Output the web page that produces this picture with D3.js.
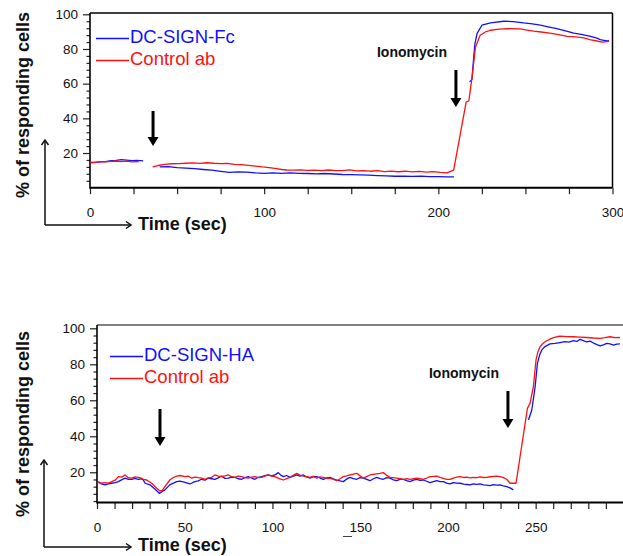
<!DOCTYPE html>
<html><head><meta charset="utf-8">
<script src="https://cdn.jsdelivr.net/npm/d3@7"></script>
<style>
body{margin:0;background:#fff}
svg{display:block}
text{font-family:"Liberation Sans",Arial,Helvetica,sans-serif}
</style>
</head><body>
<svg id="c" width="623" height="556"></svg>
<script>
// ---------- DATA ----------
const xTicksTop = [0, 100, 200, 300];
const xTicksBottom = [0, 50, 100, 150, 200, 250];
const yTicks = [20, 40, 60, 80, 100];
const legendTop = ["DC-SIGN-Fc", "Control ab"];
const legendBottom = ["DC-SIGN-HA", "Control ab"];
const yLabel = "% of responding cells";
const xLabel = "Time (sec)";
const annotation = "Ionomycin";
const stimTimeTop = [36.2, 210.1];     // arrows: stimulus, ionomycin
const stimTimeBottom = [35.9, 234.2];

// top panel, DC-SIGN-Fc  [time, %]  (null = gap)
const fcData = [[0,14.3],[3,14.6],[6,14.9],[9,15.0],[12,15.6],[15,15.8],[18,16.2],[21,15.9],[24,15.6],[27,15.8],[30.5,15.5],
[35,null],
[40,12.0],[45,12.2],[50,11.6],[55,11.3],[60,11.0],[65,10.5],[70,10.1],[75,9.4],[80,8.8],[85,9.1],[90,9.0],[95,8.5],[100,8.3],[105,8.6],[110,8.3],[115,8.5],[120,8.3],[125,8.2],[130,8.0],[135,8.2],[140,7.9],[145,7.6],[150,7.5],[155,7.4],[160,7.2],[165,7.0],[170,6.8],[175,6.6],[180,6.7],[185,6.5],[190,6.7],[195,6.4],[200,6.4],[205,6.3],[209,6.2],
[214,null],
[218,61],[219.3,62.5],[220.3,75],[221,83],[222.2,88.9],[225,93.7],[230,95],[237.5,96],[243,95.8],[249,95],[254,94.5],[258.6,93.7],[263,92.8],[268,91.7],[273,90.5],[277.8,89.2],[282,88.4],[287.4,87.3],[291,86.3],[293,85.4],[295,85.0],[297,84.6],[298,85.0]];

// top panel, Control ab
const fcCtrlData = [[0,14.8],[3,14.6],[6,15.0],[9,14.9],[12,15.2],[15,15.4],[18,15.0],[21,15.3],[24,14.9],[28,15.1],
[32,null],
[36,12.0],[39,12.8],[43,13.5],[47,13.8],[51,13.9],[55,14.1],[59,14.3],[63,14.0],[67,14.4],[71,14.1],[75,13.9],[79,14.0],[83,13.4],[87,13.3],[91,12.9],[95,12.5],[99,12.0],[103,11.6],[107,11.0],[110,10.5],[113,10.2],
[117,10.1],[121,10.3],[125,10.0],[129,10.1],[133,9.9],[137,10.2],[141,9.8],[145,9.9],[149,10.3],[153,9.7],[157,9.9],[161,9.5],[165,9.8],[169,9.3],[173,9.6],[177,9.2],[181,9.5],[185,9.1],[189,9.4],[193,9.0],[197,9.3],[201,8.8],[205,8.6],[207,9.4],[208.8,10.1],
[216,49.5],[217.5,50],[219.4,63.9],[221.3,81],[224,87.9],[227,89.8],[230,90.8],[235,91.4],[239.5,91.7],[247,91.6],[251,90.9],[254.7,90.3],[259,89.8],[264,89.2],[269,88.3],[274,87.3],[279,87.0],[283.5,86.4],[287,85.4],[291,84.6],[294,84.0],[297,84.3],[298,84.6]];

// bottom panel, DC-SIGN-HA
const haData = [[0.8,14.8],[2.5,13.5],[4.6,13.0],[6.5,13.6],[8.4,13.9],[10.3,14.2],[12.2,14.8],[14,15.8],[16,16.7],[18,16.0],[19.8,16.1],[21.5,16.6],[23.6,16.1],[25,16.4],[26.4,15.7],[27.4,13.9],[30.2,13.0],[33.1,10.6],[35.5,8.3],[37,9.2],[38.7,10.2],[41.5,13.0],[43.5,14.0],[45.4,14.8],[47.3,15.1],[49.2,14.6],[51.1,14.1],[53,13.5],[54.4,14.2],[55.8,14.8],[57.7,15.2],[59.6,16.1],[61.5,15.6],[63.4,16.7],[65.3,16.4],[67.2,16.1],[69.1,16.9],[71,17.9],[72.9,16.6],[74.8,16.7],[76.7,17.3],[78.6,17.2],[80.5,16.4],[82.4,16.1],[84.3,17.0],[86.2,17.6],[88.1,16.8],[90,16.1],[91.9,17.2],[93.8,17.6],[95.7,18.1],[97.6,18.5],[99.5,18.0],[101.4,18.5],[103.3,19.8],[104.7,18.4],[106.2,17.6],[108.1,18.2],[110,17.2],[111.9,17.9],[113.8,18.5],[115.7,17.8],[117.6,18.5],[119.5,17.4],[121.4,16.7],[123.3,17.5],[125.2,17.6],[127.1,16.8],[129,16.1],[130.9,16.9],[132.8,17.2],[134.7,16.4],[136.6,15.7],[138.5,15.2],[140.4,14.8],[142.3,16.2],[144.2,17.2],[146.1,16.5],[148,16.1],[149.9,17.0],[151.8,16.7],[153.7,16.0],[155.6,15.3],[157.5,16.4],[159.4,17.2],[161.3,16.5],[163.2,16.1],[165.1,17.0],[167,16.7],[168.9,15.8],[170.8,15.3],[172.7,16.0],[174.6,16.1],[176.5,15.4],[178.4,14.8],[180.3,15.6],[182.2,16.1],[184.1,15.5],[186,15.7],[187.9,15.0],[189.8,14.2],[191.7,14.8],[193.6,15.3],[195.5,14.8],[197.4,14.8],[199.3,14.0],[201.2,13.5],[203.1,14.2],[205,14.0],[206.9,13.9],[209,13.4],[210.8,13.2],[212.6,13.0],[214.5,13.6],[216.4,13.3],[218.3,13.5],[220.2,13.0],[222.1,12.8],[224,12.6],[225.9,13.1],[227.8,12.9],[229.7,13.0],[231.6,12.4],[233.5,12.0],[235.4,11.3],[237.3,10.2],
[241,null],
[245.9,49.0],[247.8,54.6],[249.7,67.6],[251,80.5],[252.2,85.0],[253.5,88.0],[255.5,90.0],[258.2,91.3],[261,91.6],[263.9,92.1],[266.5,92.6],[269,92.3],[271.5,93.1],[273.5,92.7],[275.3,93.9],[277.2,93.2],[279.1,92.4],[281,92.9],[283,91.8],[285,90.9],[286.7,90.2],[288.6,90.8],[290.5,91.6],[292.4,91.3],[294.3,90.7],[296.2,91.2],[298,91.3]];

// bottom panel, Control ab
const haCtrlData = [[0.8,14.2],[2.7,13.9],[4.6,14.2],[6.5,14.0],[8.4,14.8],[10.3,15.6],[12.2,17.6],[14.1,17.3],[16,18.5],[17.9,17.0],[19.8,16.7],[21.7,17.4],[23.6,17.2],[25.5,16.6],[26.4,16.1],[28.3,15.7],[31.2,13.9],[34,11.1],[35.9,9.6],[37.2,10.0],[38.7,12.0],[41.5,15.7],[43.5,17.1],[45.4,17.9],[47.3,18.2],[50.1,17.6],[52,17.9],[53.9,16.7],[55.8,17.3],[57.7,17.0],[59.6,16.8],[61.5,16.1],[63.4,16.9],[65.3,17.2],[67.2,18.5],[69.1,17.8],[71,17.6],[72.9,18.0],[74.8,18.5],[76.7,17.6],[78.6,17.2],[80.5,17.9],[82.4,17.6],[84.3,17.0],[86.2,16.7],[88.1,17.3],[90,17.6],[91.9,17.0],[93.8,17.2],[95.7,17.9],[97.6,18.5],[99.5,17.9],[101.4,17.6],[103.3,16.7],[104.7,16.2],[106.2,15.7],[108.1,16.5],[110,17.2],[111.9,18.3],[113.8,19.4],[115.7,18.4],[117.6,17.9],[119.5,17.5],[121.4,17.2],[123.3,17.8],[125.2,16.7],[127.1,17.4],[129,17.2],[130.9,16.6],[132.8,16.7],[134.7,16.0],[136.6,15.3],[138.5,16.4],[140.4,17.6],[142.3,18.0],[144.2,18.5],[146.1,18.9],[148,19.4],[149.9,18.0],[151.8,16.7],[153.7,17.6],[155.6,18.5],[157.5,18.8],[159.4,19.1],[161.3,19.4],[163.2,19.8],[165.1,18.3],[167,17.2],[168.9,17.0],[170.8,16.7],[172.7,16.4],[174.6,16.1],[176.5,16.5],[178.4,16.1],[180.3,16.4],[182.2,16.7],[184.1,16.4],[186,16.1],[187.9,16.8],[189.8,17.6],[191.7,17.7],[193.6,17.9],[195.5,17.2],[197.4,16.6],[199.3,16.1],[201.2,16.1],[203.1,16.8],[205,17.3],[206.9,17.6],[208.8,17.1],[210.7,17.3],[212.6,16.9],[214.5,17.2],[216.4,17.0],[218.3,17.4],[220.2,17.1],[222.1,17.2],[224,17.5],[225.9,17.7],[227.8,17.9],[229.7,17.6],[231.6,17.0],[233.5,16.1],[235.4,13.9],[238.8,13.9],
[245.3,55.5],[246.8,58.3],[248.7,67.6],[250.2,82.4],[251.3,87.0],[252.5,89.8],[254.4,91.8],[256.3,93.1],[258.2,94.0],[260.1,94.8],[262,95.3],[263.9,95.7],[267.7,95.4],[271.5,95.3],[275.3,95.1],[279.1,94.9],[282.9,94.6],[286.7,94.4],[289.5,94.8],[292.4,95.3],[295.2,94.8],[298,94.9]];

// ---------- DRAW ----------
const svg = d3.select("#c");
const BLUE = "#1010ff", RED = "#ff1010";

function panel(o) {
  const x = d3.scaleLinear().domain([0, 300]).range(o.xr);
  const y = d3.scaleLinear().domain(o.yd).range(o.yr);
  const g = svg.append("g");
  const L = o.xr[0], B = o.yr[0];

  // box frame
  g.append("line").attr("x1", L).attr("x2", o.right).attr("y1", o.top).attr("y2", o.top)
    .attr("stroke", o.topColor).attr("stroke-width", 1.5);
  g.append("line").attr("x1", o.right).attr("x2", o.right).attr("y1", o.top).attr("y2", B)
    .attr("stroke", "#000").attr("stroke-width", 1.5);

  // minor ticks
  const yMinor = d3.range(4, 100, 4).filter(v => v % 20 !== 0 && v >= o.yd[0]);
  g.append("g").attr("transform", `translate(${L},0)`)
    .call(d3.axisLeft(y).tickValues(yMinor).tickSize(3.5).tickFormat("").tickSizeOuter(0))
    .call(s => s.select(".domain").remove())
    .call(s => s.selectAll("line").attr("stroke", "#222").attr("stroke-width", 1.2));
  g.append("g").attr("transform", `translate(0,${B})`)
    .call(d3.axisBottom(x).tickValues(o.xMinor).tickSize(6.5).tickFormat("").tickSizeOuter(0))
    .call(s => s.select(".domain").remove())
    .call(s => s.selectAll("line").attr("stroke", "#222").attr("stroke-width", 1.2));

  // major axes
  const ya = g.append("g").attr("transform", `translate(${L},0)`)
    .call(d3.axisLeft(y).tickValues(yTicks).tickSize(7).tickPadding(5).tickSizeOuter(0));
  ya.select(".domain").remove();
  ya.selectAll("line").attr("stroke", "#222").attr("stroke-width", 1.2);
  ya.selectAll("text").attr("font-size", 13.5).attr("fill", "#111").attr("font-family", '"Liberation Sans",Arial,sans-serif');

  const xa = g.append("g").attr("transform", `translate(0,${B})`)
    .call(d3.axisBottom(x).tickValues(o.xTicks).tickSize(6.5).tickPadding(13).tickSizeOuter(0));
  xa.select(".domain").remove();
  xa.selectAll("line").attr("stroke", "#222").attr("stroke-width", 1.2);
  xa.selectAll("text").attr("font-size", 13.5).attr("fill", "#111").attr("font-family", '"Liberation Sans",Arial,sans-serif');

  // axis lines
  g.append("line").attr("x1", L).attr("x2", L).attr("y1", o.top).attr("y2", B + 1)
    .attr("stroke", "#000").attr("stroke-width", 1.6);
  g.append("line").attr("x1", L).attr("x2", o.right).attr("y1", B).attr("y2", B)
    .attr("stroke", "#000").attr("stroke-width", 2);

  // data lines
  const line = d3.line().defined(d => d[1] !== null).x(d => x(d[0])).y(d => y(d[1]));
  o.series.forEach(s => {
    g.append("path").datum(s.data).attr("d", line).attr("fill", "none")
      .attr("stroke", s.color).attr("stroke-width", 1.3).attr("stroke-linejoin", "round");
  });

  // legend
  o.legend.forEach((name, i) => {
    const ly = o.legY[i];
    g.append("line").attr("x1", o.legX).attr("x2", o.legX + 33).attr("y1", ly).attr("y2", ly)
      .attr("stroke", o.series[i].color).attr("stroke-width", 1.3);
    g.append("text").attr("x", o.legX + 34).attr("y", ly + 4.5).attr("font-size", 18.5)
      .attr("fill", o.series[i].color).text(name);
  });

  // stimulus arrows
  o.arrows.forEach(a => {
    const ax = x(a.t);
    g.append("line").attr("x1", ax).attr("x2", ax).attr("y1", a.y0).attr("y2", a.y1 - 8)
      .attr("stroke", "#000").attr("stroke-width", 3);
    g.append("path").attr("d", `M${ax - 5.5},${a.y1 - 9}L${ax + 5.5},${a.y1 - 9}L${ax},${a.y1}Z`).attr("fill", "#000");
  });
  g.append("text").attr("x", o.ionoX).attr("y", o.ionoY).attr("font-size", 14).attr("font-weight", "bold")
    .attr("text-anchor", "middle").attr("fill", "#111").text(annotation);

  // y label
  g.append("text").attr("transform", `translate(29,${o.yLabY}) rotate(-90)`).attr("text-anchor", "middle")
    .attr("font-size", 18).attr("font-weight", "bold").attr("fill", "#111").text(yLabel);

  // corner arrows
  const cx = o.corner[0], cy = o.corner[1];
  g.append("path").attr("d", `M${cx},${cy}V${o.corner[2]}M${cx},${cy}H${o.corner[3]}`)
    .attr("stroke", "#111").attr("stroke-width", 1.5).attr("fill", "none");
  g.append("path").attr("d", `M${cx - 3.5},${o.corner[2] + 5}L${cx},${o.corner[2]}L${cx + 3.5},${o.corner[2] + 5}`)
    .attr("stroke", "#111").attr("stroke-width", 1.5).attr("fill", "none");
  g.append("path").attr("d", `M${o.corner[3] - 5},${cy - 3.5}L${o.corner[3]},${cy}L${o.corner[3] - 5},${cy + 3.5}`)
    .attr("stroke", "#111").attr("stroke-width", 1.5).attr("fill", "none");
  g.append("text").attr("x", 138).attr("y", o.timeY).attr("font-size", 18).attr("font-weight", "bold")
    .attr("fill", "#111").text(xLabel);
  return { x, y };
}

panel({
  xr: [90, 612.5], yd: [0, 100], yr: [187.7, 14.3], top: 13, right: 612.5, topColor: "#000",
  xTicks: xTicksTop, xMinor: d3.range(25, 300, 25).filter(v => v % 100 !== 0),
  series: [{ data: fcData, color: BLUE }, { data: fcCtrlData, color: RED }],
  legend: legendTop, legX: 96, legY: [38.5, 60.5],
  arrows: [{ t: stimTimeTop[0], y0: 111, y1: 146 }, { t: stimTimeTop[1], y0: 70, y1: 107 }],
  ionoX: 412, ionoY: 57, yLabY: 105, corner: [45, 225, 140, 131], timeY: 229.5
});

panel({
  xr: [97, 623.4], yd: [3.2, 100], yr: [502.5, 328.3], top: 325, right: 624, topColor: "#555",
  xTicks: xTicksBottom, xMinor: d3.range(10, 300, 10).filter(v => v % 50 !== 0),
  series: [{ data: haData, color: BLUE }, { data: haCtrlData, color: RED }],
  legend: legendBottom, legX: 110, legY: [356.5, 378.5],
  arrows: [{ t: stimTimeBottom[0], y0: 409, y1: 446 }, { t: stimTimeBottom[1], y0: 391, y1: 428 }],
  ionoX: 464, ionoY: 377.5, yLabY: 424, corner: [44, 547, 460, 131], timeY: 550.5
});

// small stray mark under "150"
svg.append("line").attr("x1", 343).attr("x2", 352).attr("y1", 536.5).attr("y2", 536.5)
  .attr("stroke", "#444").attr("stroke-width", 1);
</script>
</body></html>
